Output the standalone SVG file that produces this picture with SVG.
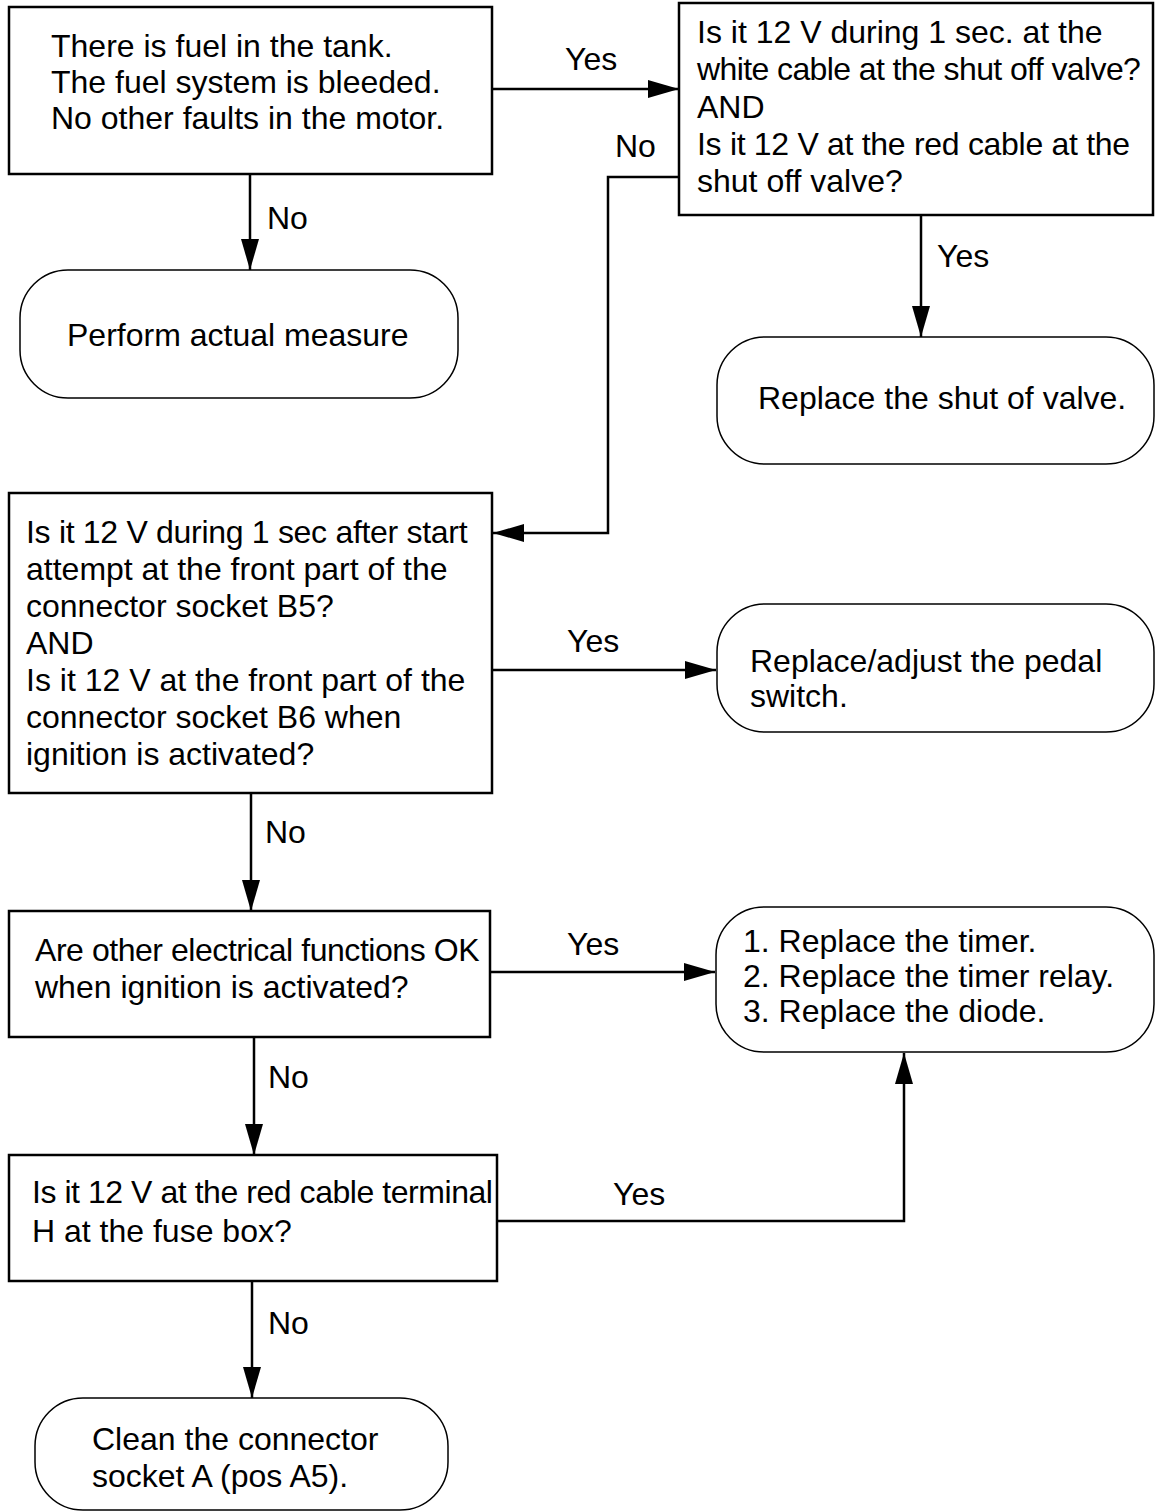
<svg xmlns="http://www.w3.org/2000/svg" width="1155" height="1512" viewBox="0 0 1155 1512">
<style>
text{font-family:"Liberation Sans",Arial,sans-serif;font-size:32px;fill:#000}
.box{fill:#fff;stroke:#000;stroke-width:2.5}
.rbox{fill:#fff;stroke:#000;stroke-width:1.5}
.ln{fill:none;stroke:#000;stroke-width:2.5}
</style>
<defs>
<marker id="ah" markerUnits="userSpaceOnUse" markerWidth="32" markerHeight="18" refX="31" refY="9" orient="auto">
<path d="M0,0 L31,9 L0,18 Z" fill="#000"/>
</marker>
</defs>
<rect width="1155" height="1512" fill="#fff"/>

<g id="connectors">
<path class="ln" d="M492,89 H679" marker-end="url(#ah)"/>
<path class="ln" d="M679,177 H608 V533 H493" marker-end="url(#ah)"/>
<path class="ln" d="M250,174 V270" marker-end="url(#ah)"/>
<path class="ln" d="M921,215 V337" marker-end="url(#ah)"/>
<path class="ln" d="M492,670 H716" marker-end="url(#ah)"/>
<path class="ln" d="M251,793 V911" marker-end="url(#ah)"/>
<path class="ln" d="M490,972 H715" marker-end="url(#ah)"/>
<path class="ln" d="M254,1037 V1155" marker-end="url(#ah)"/>
<path class="ln" d="M497,1221 H904 V1053" marker-end="url(#ah)"/>
<path class="ln" d="M252,1281 V1398" marker-end="url(#ah)"/>
<text x="565" y="70">Yes</text>
<text x="615" y="157">No</text>
<text x="267" y="229">No</text>
<text x="937" y="267">Yes</text>
<text x="567" y="652">Yes</text>
<text x="265" y="843">No</text>
<text x="567" y="955">Yes</text>
<text x="268" y="1088">No</text>
<text x="613" y="1205">Yes</text>
<text x="268" y="1334">No</text>
</g>

<g id="n1">
<rect class="box" x="9" y="7" width="483" height="167"/>
<text x="51" y="57">There is fuel in the tank.</text>
<text x="51" y="93">The fuel system is bleeded.</text>
<text x="51" y="129">No other faults in the motor.</text>
</g>

<g id="n2">
<rect class="box" x="679" y="3" width="474" height="212"/>
<text x="697" y="43">Is it 12 V during 1 sec. at the</text>
<text x="697" y="80" letter-spacing="-0.6">white cable at the shut off valve?</text>
<text x="697" y="118">AND</text>
<text x="697" y="155" letter-spacing="-0.3">Is it 12 V at the red cable at the</text>
<text x="697" y="192">shut off valve?</text>
</g>

<g id="n3">
<rect class="rbox" x="20" y="270" width="438" height="128" rx="48" ry="48"/>
<text x="67" y="346">Perform actual measure</text>
</g>

<g id="n4">
<rect class="rbox" x="717" y="337" width="437" height="127" rx="48" ry="48"/>
<text x="758" y="409">Replace the shut of valve.</text>
</g>

<g id="n5">
<rect class="box" x="9" y="493" width="483" height="300"/>
<text x="26" y="543" letter-spacing="-0.3">Is it 12 V during 1 sec after start</text>
<text x="26" y="580">attempt at the front part of the</text>
<text x="26" y="617">connector socket B5?</text>
<text x="26" y="654">AND</text>
<text x="26" y="691">Is it 12 V at the front part of the</text>
<text x="26" y="728">connector socket B6 when</text>
<text x="26" y="765">ignition is activated?</text>
</g>

<g id="n6">
<rect class="rbox" x="717" y="604" width="437" height="128" rx="48" ry="48"/>
<text x="750" y="672">Replace/adjust the pedal</text>
<text x="750" y="707">switch.</text>
</g>

<g id="n7">
<rect class="box" x="9" y="911" width="481" height="126"/>
<text x="35" y="961" letter-spacing="-0.45">Are other electrical functions OK</text>
<text x="35" y="998">when ignition is activated?</text>
</g>

<g id="n8">
<rect class="rbox" x="716" y="907" width="438" height="145" rx="48" ry="48"/>
<text x="743" y="952">1. Replace the timer.</text>
<text x="743" y="987">2. Replace the timer relay.</text>
<text x="743" y="1022">3. Replace the diode.</text>
</g>

<g id="n9">
<rect class="box" x="9" y="1155" width="488" height="126"/>
<text x="32" y="1203" letter-spacing="-0.45">Is it 12 V at the red cable terminal</text>
<text x="32" y="1242">H at the fuse box?</text>
</g>

<g id="n10">
<rect class="rbox" x="35" y="1398" width="413" height="112" rx="48" ry="48"/>
<text x="92" y="1450">Clean the connector</text>
<text x="92" y="1487">socket A (pos A5).</text>
</g>
</svg>
